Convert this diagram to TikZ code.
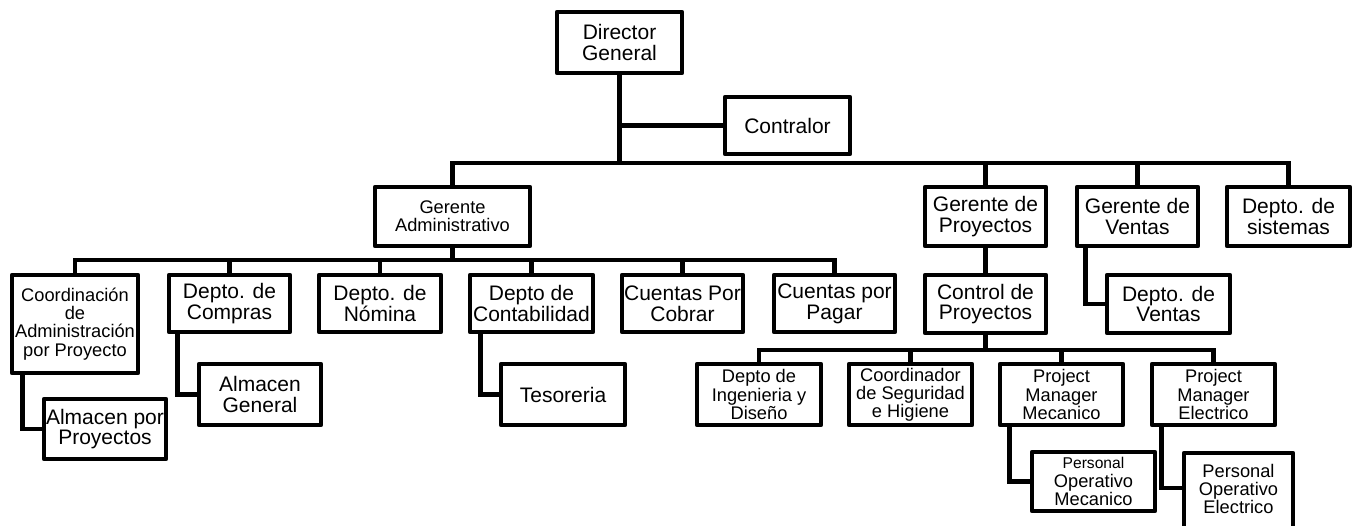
\documentclass[tikz,border=0pt]{standalone}
\usepackage{fontspec}
\setmainfont{Liberation Sans}
\begin{document}
\begin{tikzpicture}[x=0.75pt,y=-0.75pt]
\tikzset{
  box/.style={draw, line width=3.4pt, line join=round, rectangle, inner sep=0pt, align=center, fill=white},
  big/.style={font=\fontsize{15.75}{15.6}\selectfont},
  sml/.style={font=\fontsize{13.7}{13.6}\selectfont},
  conn/.style={line width=3.4pt},
  wh/.style 2 args={minimum width=#1*0.75pt, minimum height=#2*0.75pt}
}
\useasboundingbox (0,0) rectangle (1357,525);

% level 0/1
\node[box,big,wh={125}{61}] (dg) at (619.5,42.5) {Director\\General};
\node[box,big,wh={125}{57}] (ctr) at (787.5,125.5) {Contralor};
\node[box,sml,wh={155}{59}] (ga) at (452.5,216.5) {Gerente\\Administrativo};
\node[box,big,wh={121}{59}] (gp) at (985.5,216.5) {Gerente de\\Proyectos};
\node[box,big,wh={121}{59}] (gv) at (1137.5,216.5) {Gerente de\\Ventas};
\node[box,big,wh={123}{59}] (ds) at (1288.5,216.5) {Depto. de\\sistemas};

% level 2
\node[box,sml,wh={126}{98}] (coord) at (75,324) {Coordinación\\de\\Administración\\por Proyecto};
\node[box,big,wh={121}{57}] (compras) at (229.5,303.5) {Depto. de\\Compras};
\node[box,big,wh={122}{57}] (nomina) at (380,303.5) {Depto. de\\Nómina};
\node[box,big,wh={123}{57}] (contab) at (531.5,303.5) {Depto de\\Contabilidad};
\node[box,big,wh={121}{57}] (cobrar) at (682.5,303.5) {Cuentas Por\\Cobrar};
\node[box,big,wh={121}{57}] (pagar) at (834.5,303.5) {Cuentas por\\Pagar};
\node[box,big,wh={121}{58}] (control) at (985.5,304) {Control de\\Proyectos};
\node[box,big,wh={123}{58}] (dv) at (1168.5,304) {Depto. de\\Ventas};

% level 3
\node[box,big,wh={122}{60}] (almp) at (105,429) {Almacen por\\Proyectos};
\node[box,big,wh={122}{61}] (almg) at (260,394.5) {Almacen\\General};
\node[box,big,wh={124}{61}] (teso) at (563,394.5) {Tesoreria};
\node[box,sml,wh={124}{61}] (ing) at (759,394.5) {Depto de\\Ingenieria y\\Diseño};
\node[box,sml,wh={123}{61}] (seg) at (910.5,394.5) {Coordinador\\de Seguridad\\e Higiene};
\node[box,sml,wh={123}{61}] (pmm) at (1061.5,394.5) {Project\\Manager\\Mecanico};
\node[box,sml,wh={123}{61}] (pme) at (1213.5,394.5) {Project\\Manager\\Electrico};
\node[box,sml,wh={123}{59}] (pom) at (1093.5,481.5) {{\fontsize{11.7}{11.7}\selectfont Personal}\\Operativo\\Mecanico};
\node[box,wh={109}{84}] (poe) at (1238.5,495) {};
\node[sml,align=center,inner sep=0pt] (poetext) at (1238.5,489) {Personal\\Operativo\\Electrico};

% junctions
\coordinate (j1) at (619.5,163);
\coordinate (j2) at (452.5,260);
\coordinate (j3) at (985.5,350);

% connectors
\draw[conn] (dg.south) -- (j1);
\draw[conn] (ctr.west) -- (ctr.west -| j1);
\draw[conn] (ga.north) |- (j1) -| (ds.north);
\draw[conn] (gp.north) -- (gp.north |- j1);
\draw[conn] (gv.north) -- (gv.north |- j1);

\draw[conn] (ga.south) -- (j2);
\draw[conn] (coord.north) |- (j2) -| (pagar.north);
\draw[conn] (compras.north) -- (compras.north |- j2);
\draw[conn] (nomina.north) -- (nomina.north |- j2);
\draw[conn] (contab.north) -- (contab.north |- j2);
\draw[conn] (cobrar.north) -- (cobrar.north |- j2);

\draw[conn] (gp.south) -- (control.north);
\draw[conn] (control.south) -- (j3);
\draw[conn] (ing.north) |- (j3) -| (pme.north);
\draw[conn] (seg.north) -- (seg.north |- j3);
\draw[conn] (pmm.north) -- (pmm.north |- j3);

\draw[conn] (coord.south west) ++(13,0) |- (almp.west);
\draw[conn] (compras.south west) ++(11,0) |- (almg.west);
\draw[conn] (contab.south west) ++(12.5,0) |- (teso.west);
\draw[conn] (gv.south west) ++(11,0) |- (dv.west);
\draw[conn] (pmm.south west) ++(12,0) |- (pom.west);
\draw[conn] (pme.south west) ++(12,0) |- ([yshift=7*0.75pt]poe.west);
\end{tikzpicture}
\end{document}
